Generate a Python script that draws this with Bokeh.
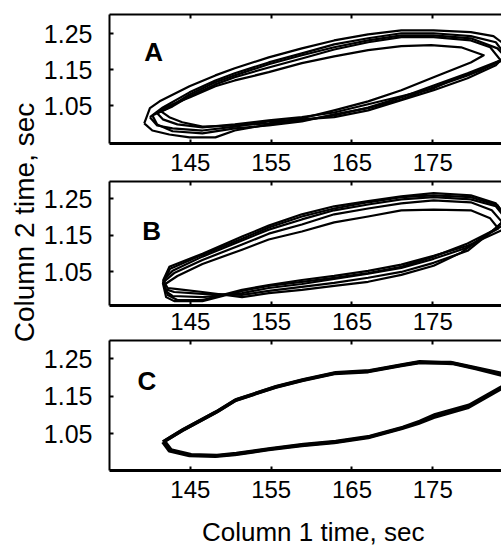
import math
from bokeh.plotting import figure
from bokeh.models import Range1d, LinearAxis, FixedTicker, Label
from bokeh.layouts import row, column
from bokeh.embed import file_html
from bokeh.resources import INLINE

FONT = "Liberation Sans"

# ---------------- data ----------------
x_ticks = [145, 155, 165, 175]
x_tick_labels = ["145", "155", "165", "175"]
y_ticks = [1.05, 1.15, 1.25]
y_tick_labels = ["1.05", "1.15", "1.25"]
panel_letters = ["A", "B", "C"]
x_label = "Column 1 time, sec"
y_label = "Column 2 time, sec"

# Panel A loops (column 1 time, column 2 time)
a1_x = [139.3, 140.0, 141.2, 144.9, 148.1, 150.5, 154.7, 158.8, 162.8, 167.0, 171.1, 175.1, 179.7, 182.5, 184.0, 184.6,
        183.4, 179.3, 175.1, 171.1, 167.0, 162.8, 158.8, 154.7, 150.5, 148.1, 144.9, 142.4, 140.3, 139.3]
a1_y = [1.001, 1.043, 1.062, 1.104, 1.134, 1.154, 1.184, 1.209, 1.231, 1.248, 1.259, 1.259, 1.254, 1.243, 1.218, 1.190,
        1.176, 1.140, 1.106, 1.073, 1.045, 1.023, 1.009, 0.998, 0.981, 0.962, 0.962, 0.970, 0.981, 1.001]
a2_x = [140.0, 141.6, 144.9, 148.1, 150.5, 154.7, 158.8, 162.8, 167.0, 171.1, 175.1, 179.7, 182.8, 184.0,
        182.8, 179.3, 175.1, 171.1, 167.0, 162.8, 158.8, 154.7, 150.5, 146.5, 142.8, 140.9, 140.0]
a2_y = [1.018, 1.045, 1.087, 1.120, 1.140, 1.170, 1.195, 1.220, 1.237, 1.251, 1.251, 1.243, 1.226, 1.190,
        1.162, 1.126, 1.093, 1.065, 1.037, 1.018, 1.012, 1.006, 0.992, 0.981, 0.987, 0.995, 1.018]
a3_x = [140.9, 142.8, 144.9, 148.1, 150.5, 154.7, 158.8, 162.8, 167.0, 171.1, 175.1, 179.7, 182.1, 183.4,
        180.9, 177.2, 175.1, 171.1, 167.0, 162.8, 158.8, 154.7, 150.5, 146.5, 143.4, 141.6, 140.9]
a3_y = [1.029, 1.048, 1.076, 1.109, 1.129, 1.156, 1.181, 1.206, 1.226, 1.240, 1.240, 1.231, 1.212, 1.176,
        1.148, 1.120, 1.098, 1.076, 1.054, 1.031, 1.018, 1.009, 0.998, 0.990, 0.998, 1.012, 1.029]
a4_x = [141.2, 142.8, 144.9, 148.1, 150.5, 154.7, 158.8, 162.8, 167.0, 171.1, 174.8, 178.5, 181.3,
        179.7, 175.1, 171.1, 167.0, 162.8, 158.8, 154.7, 150.5, 146.5, 144.0, 142.4, 141.2]
a4_y = [1.037, 1.054, 1.073, 1.104, 1.120, 1.143, 1.168, 1.187, 1.204, 1.215, 1.218, 1.212, 1.190,
        1.170, 1.129, 1.093, 1.062, 1.037, 1.015, 1.001, 0.995, 0.992, 1.004, 1.018, 1.037]
a5_x = [140.3, 142.2, 144.9, 148.1, 150.5, 154.7, 158.8, 162.8, 167.0, 171.1, 175.1, 179.7, 183.0, 184.2,
        183.0, 179.3, 175.1, 171.1, 167.0, 162.8, 158.8, 154.7, 150.5, 146.5, 142.8, 140.9, 140.3]
a5_y = [1.023, 1.043, 1.081, 1.115, 1.134, 1.165, 1.190, 1.212, 1.231, 1.245, 1.245, 1.237, 1.209, 1.181,
        1.170, 1.134, 1.101, 1.067, 1.043, 1.026, 1.006, 0.995, 0.987, 0.973, 0.979, 0.998, 1.023]

# Panel B loops
b1_x = [141.6, 142.4, 146.5, 151.4, 154.7, 158.8, 162.8, 167.0, 171.1, 175.1, 179.7, 182.8, 184.0, 184.6,
        183.4, 179.3, 175.1, 171.1, 167.0, 162.8, 158.8, 154.7, 151.4, 146.5, 143.4, 142.2, 141.6]
b1_y = [1.024, 1.063, 1.099, 1.146, 1.176, 1.207, 1.229, 1.243, 1.256, 1.265, 1.259, 1.237, 1.204, 1.176,
        1.162, 1.121, 1.093, 1.069, 1.052, 1.038, 1.027, 1.013, 1.000, 0.972, 0.972, 0.986, 1.024]
b2_x = [141.8, 142.8, 146.5, 151.4, 154.7, 158.8, 162.8, 167.0, 171.1, 175.1, 179.7, 182.8, 184.0,
        182.8, 179.3, 175.1, 171.1, 167.0, 162.8, 158.8, 154.7, 151.4, 146.5, 142.8, 141.9, 141.8]
b2_y = [1.030, 1.052, 1.091, 1.135, 1.165, 1.193, 1.218, 1.234, 1.248, 1.254, 1.248, 1.229, 1.196,
        1.168, 1.116, 1.085, 1.060, 1.044, 1.030, 1.016, 1.005, 0.991, 0.980, 0.983, 0.997, 1.030]
b3_x = [141.7, 143.0, 146.5, 151.4, 154.7, 158.8, 162.8, 167.0, 171.1, 175.1, 179.7, 182.3, 183.6,
        182.1, 179.3, 175.1, 171.1, 167.0, 162.8, 158.8, 154.7, 151.4, 146.5, 143.0, 141.9, 141.7]
b3_y = [1.022, 1.046, 1.082, 1.124, 1.154, 1.179, 1.207, 1.223, 1.237, 1.245, 1.240, 1.218, 1.185,
        1.157, 1.107, 1.074, 1.049, 1.033, 1.019, 1.008, 0.997, 0.986, 0.989, 0.994, 1.002, 1.022]
b4_x = [141.9, 143.4, 146.5, 151.4, 154.7, 158.8, 162.8, 167.0, 171.1, 175.1, 179.7, 182.1, 183.1,
        181.5, 178.5, 175.1, 171.1, 167.0, 162.8, 158.8, 154.7, 151.4, 146.5, 143.4, 142.2, 141.9]
b4_y = [1.016, 1.038, 1.071, 1.110, 1.138, 1.160, 1.185, 1.201, 1.218, 1.220, 1.218, 1.196, 1.168,
        1.149, 1.102, 1.066, 1.041, 1.022, 1.011, 1.000, 0.991, 0.980, 0.994, 1.002, 1.005, 1.016]
b5_x = [141.6, 142.5, 146.5, 151.4, 154.7, 158.8, 162.8, 167.0, 171.1, 175.1, 179.7, 183.0, 184.2,
        183.4, 179.3, 175.1, 171.1, 167.0, 162.8, 158.8, 154.7, 151.4, 146.5, 143.0, 142.0, 141.6]
b5_y = [1.019, 1.058, 1.096, 1.140, 1.171, 1.201, 1.223, 1.240, 1.254, 1.259, 1.254, 1.232, 1.190,
        1.173, 1.127, 1.091, 1.063, 1.046, 1.033, 1.022, 1.011, 0.997, 0.969, 0.969, 0.980, 1.019]

# Panel C loops
c1_x = [141.6, 144.0, 148.1, 150.5, 155.5, 158.8, 162.8, 167.0, 171.1, 173.2, 177.2, 180.1, 183.5, 185.0,
        183.5, 179.3, 175.1, 173.2, 171.1, 167.0, 162.8, 158.8, 154.7, 150.5, 148.1, 144.9, 142.4, 141.6]
c1_y = [1.028, 1.059, 1.107, 1.139, 1.174, 1.192, 1.211, 1.216, 1.232, 1.240, 1.240, 1.227, 1.211, 1.195,
        1.171, 1.120, 1.094, 1.078, 1.064, 1.040, 1.027, 1.019, 1.008, 0.995, 0.990, 0.992, 1.005, 1.028]
c2_x = [141.8, 144.2, 148.3, 150.7, 155.7, 159.0, 163.0, 167.2, 171.3, 173.4, 177.4, 180.3, 183.5, 184.8,
        183.5, 179.5, 175.3, 173.4, 171.3, 167.2, 163.0, 159.0, 154.9, 150.7, 148.3, 145.1, 142.6, 141.8]
c2_y = [1.030, 1.062, 1.109, 1.141, 1.176, 1.194, 1.213, 1.218, 1.234, 1.242, 1.238, 1.224, 1.207, 1.192,
        1.175, 1.126, 1.101, 1.083, 1.067, 1.043, 1.029, 1.021, 1.010, 0.997, 0.992, 0.994, 1.007, 1.030]

X_RANGE = (135.0, 183.5)

panels = [
    dict(xs=[a1_x, a2_x, a3_x, a4_x, a5_x], ys=[a1_y, a2_y, a3_y, a4_y, a5_y], lw=2.2,
         yr=(0.945, 1.303), h=180, top=14, bottom=37, std=10, letter_pos=(139.3, 1.198)),
    dict(xs=[b1_x, b2_x, b3_x, b4_x, b5_x], ys=[b1_y, b2_y, b3_y, b4_y, b5_y], lw=2.2,
         yr=(0.957, 1.297), h=159, top=1, bottom=34, std=7, letter_pos=(139.06, 1.160)),
    dict(xs=[c1_x, c2_x], ys=[c1_y, c2_y], lw=3.6,
         yr=(0.952, 1.299), h=171, top=1, bottom=40, std=10, letter_pos=(138.45, 1.190)),
]

figs = []
for i, cfg in enumerate(panels):
    p = figure(width=461, height=cfg["h"], x_range=Range1d(*X_RANGE), y_range=Range1d(*cfg["yr"]),
               x_axis_type=None, y_axis_type=None, output_backend="svg", toolbar_location=None,
               title=None, min_border_left=67, min_border_right=0, min_border_top=cfg["top"],
               min_border_bottom=cfg["bottom"])
    p.outline_line_color = None
    p.background_fill_color = "white"
    p.border_fill_color = "white"

    xb = LinearAxis(ticker=FixedTicker(ticks=x_ticks),
                    major_label_overrides=dict(zip(x_ticks, x_tick_labels)),
                    major_tick_in=4, major_tick_out=0, minor_tick_in=0, minor_tick_out=0,
                    axis_line_width=3, major_tick_line_width=2,
                    major_label_text_font=FONT, major_label_text_font_size="24px",
                    major_label_text_color="black", major_label_standoff=cfg["std"])
    p.add_layout(xb, "below")
    xt = LinearAxis(ticker=FixedTicker(ticks=x_ticks),
                    major_tick_in=4, major_tick_out=0, minor_tick_in=0, minor_tick_out=0,
                    axis_line_width=2, major_tick_line_width=2,
                    major_label_text_font_size="0px", major_label_standoff=0,
                    major_label_text_alpha=0)
    p.add_layout(xt, "above")
    yl = LinearAxis(ticker=FixedTicker(ticks=y_ticks),
                    major_label_overrides=dict(zip(y_ticks, y_tick_labels)),
                    major_tick_in=4, major_tick_out=0, minor_tick_in=0, minor_tick_out=0,
                    axis_line_width=2, major_tick_line_width=2,
                    major_label_text_font=FONT, major_label_text_font_size="25px",
                    major_label_text_color="black", major_label_standoff=17)
    p.add_layout(yl, "left")

    p.multi_line(xs=cfg["xs"], ys=cfg["ys"], line_color="black", line_width=cfg["lw"],
                 line_join="round")

    lx, ly = cfg["letter_pos"]
    p.add_layout(Label(x=lx, y=ly, text=panel_letters[i], text_font=FONT, text_font_style="bold",
                       text_font_size="26px", text_baseline="middle", text_color="black"))
    figs.append(p)

# x-axis title strip below panel C (frame aligned with the panels' frames)
xlab = figure(width=461, height=36, x_range=Range1d(*X_RANGE), y_range=Range1d(0, 36),
              x_axis_type=None, y_axis_type=None, output_backend="svg", toolbar_location=None,
              title=None, min_border_left=67, min_border_right=0, min_border_top=0, min_border_bottom=0)
xlab.outline_line_color = None
xlab.background_fill_color = "white"
xlab.border_fill_color = "white"
xlab.add_layout(Label(x=160.2, y=15, text=x_label, text_font=FONT, text_font_size="26px",
                      text_align="center", text_baseline="middle", text_color="black"))

# y-axis title strip on the left
ylab = figure(width=40, height=546, x_range=Range1d(0, 40), y_range=Range1d(0, 546),
              x_axis_type=None, y_axis_type=None, output_backend="svg", toolbar_location=None,
              title=None, min_border_left=0, min_border_right=0, min_border_top=0, min_border_bottom=0)
ylab.outline_line_color = None
ylab.background_fill_color = "white"
ylab.border_fill_color = "white"
ylab.add_layout(Label(x=24, y=324, text=y_label, angle=math.pi / 2, text_font=FONT,
                      text_font_size="28px", text_align="center", text_baseline="middle",
                      text_color="black"))

layout = row(ylab, column(*figs, xlab, spacing=0), spacing=0)
open("out.html", "w").write(file_html(layout, INLINE))
